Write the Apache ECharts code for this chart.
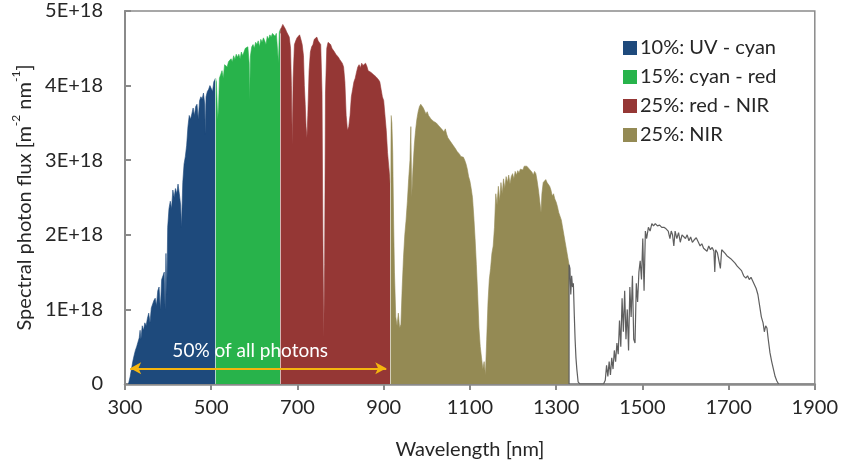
<!DOCTYPE html>
<html>
<head>
<meta charset="utf-8">
<script src="https://cdn.jsdelivr.net/npm/echarts@6/dist/echarts.min.js"></script>
<style>
  html, body { margin: 0; padding: 0; background: #fff; }
  #chart { width: 841px; height: 467px; }
</style>
</head>
<body>
<div id="chart"></div>
<script>
// Solar spectral photon flux, values in units of 1E+18 m^-2 nm^-1, keyed by wavelength (nm)
const bandNames = ['10%: UV - cyan', '15%: cyan - red', '25%: red - NIR', '25%: NIR'];
const bandColors = ['#1E4A7C', '#28B34B', '#953735', '#948A54'];

const uvCyan = [
  [308,0],[312,0.1],[315,0.2],[318,0.3],[321,0.38],[324,0.45],[327,0.5],[330,0.56],[333,0.62],[335,0.72],
  [337,0.6],[340,0.78],[343,0.72],[346,0.82],[349,0.78],[352,0.88],[355,0.95],[358,0.82],[361,1.02],[364,1.0],
  [367,1.12],[370,1.15],[373,1.05],[376,1.25],[379,1.3],[382,1.0],[385,1.4],[388,1.45],[391,1.5],[393,1.0],
  [395,1.75],[397,1.2],[399,2.1],[402,2.35],[405,2.45],[408,2.35],[411,2.6],[414,2.5],[417,2.62],[420,2.55],
  [423,2.68],[426,2.55],[429,2.4],[431,2.1],[434,2.7],[437,2.95],[440,3.05],[443,3.2],[446,3.45],[449,3.6],
  [452,3.55],[455,3.62],[458,3.7],[461,3.6],[464,3.72],[467,3.75],[470,3.55],[473,3.8],[476,3.85],[479,3.82],
  [482,3.9],[485,3.75],[486,3.35],[488,3.85],[491,3.92],[494,3.95],[497,4.0],[500,3.98],[503,3.92],[506,4.05],
  [510,4.1]
];

const cyanRed = [
  [510,4.1],[512,4.05],[515,3.55],[517,3.7],[519,4.1],[522,4.15],[525,4.2],[528,4.1],[531,4.28],[534,4.3],
  [537,4.25],[540,4.32],[543,4.3],[546,4.36],[549,4.32],[552,4.4],[555,4.35],[558,4.42],[561,4.38],[564,4.42],
  [567,4.36],[570,4.45],[573,4.4],[576,4.42],[579,4.5],[582,4.48],[585,4.52],[588,4.3],[589,3.8],[591,4.4],
  [594,4.52],[597,4.55],[600,4.5],[603,4.58],[606,4.55],[609,4.6],[612,4.52],[615,4.62],[618,4.58],[621,4.64],
  [624,4.6],[627,4.55],[630,4.66],[633,4.62],[636,4.68],[639,4.65],[642,4.7],[645,4.72],[648,4.66],[651,4.7],
  [654,4.68],[656,4.3],[658,4.72],[660,4.75]
];

const redNir = [
  [660,4.75],[663,4.78],[666,4.82],[669,4.8],[672,4.76],[675,4.72],[678,4.7],[681,4.65],[684,4.5],[686,4.0],
  [688,3.2],[690,4.1],[693,4.55],[696,4.6],[699,4.64],[702,4.66],[705,4.68],[708,4.62],[711,4.55],[714,4.4],
  [716,4.0],[718,3.75],[720,3.45],[722,3.3],[724,3.6],[727,4.2],[730,4.45],[733,4.52],[736,4.55],[739,4.62],
  [742,4.64],[745,4.65],[748,4.6],[751,4.62],[754,4.55],[757,3.9],[759,2.0],[761,0.62],[763,1.6],[765,3.9],
  [768,4.5],[771,4.58],[774,4.56],[777,4.55],[780,4.5],[783,4.48],[786,4.45],[789,4.42],[792,4.4],[795,4.38],
  [798,4.35],[801,4.34],[804,4.3],[807,4.25],[810,4.05],[813,3.6],[816,3.4],[819,3.45],[822,3.6],[825,3.85],
  [828,3.95],[831,4.05],[834,4.1],[837,4.18],[840,4.25],[843,4.28],[846,4.24],[849,4.3],[852,4.27],[855,4.25],
  [858,4.3],[861,4.26],[864,4.2],[867,4.22],[870,4.18],[873,4.2],[876,4.15],[879,4.16],[882,4.12],[885,4.1],
  [888,4.08],[891,4.05],[894,3.95],[897,3.85],[900,3.8],[903,3.8],[906,3.4],[909,3.1],[912,2.9],[915,2.7]
];

const nir = [
  [915,2.7],[917,3.6],[919,3.5],[921,3.1],[923,2.2],[925,1.5],[928,0.9],[931,0.78],[934,0.95],[937,0.75],
  [940,0.8],[943,1.3],[946,1.7],[949,2.0],[952,2.2],[955,2.45],[958,2.75],[961,3.0],[963,3.45],[965,2.5],
  [968,2.9],[971,3.2],[974,3.4],[977,3.55],[980,3.65],[983,3.72],[986,3.75],[989,3.74],[992,3.7],[995,3.68],
  [998,3.62],[1001,3.65],[1004,3.6],[1007,3.58],[1010,3.55],[1013,3.56],[1016,3.52],[1019,3.5],[1022,3.5],
  [1025,3.48],[1028,3.46],[1031,3.45],[1034,3.42],[1037,3.4],[1040,3.38],[1043,3.42],[1046,3.35],[1049,3.3],
  [1052,3.28],[1055,3.25],[1058,3.27],[1061,3.2],[1064,3.18],[1067,3.15],[1070,3.12],[1073,3.1],[1076,3.08],
  [1079,3.05],[1082,3.06],[1085,3.04],[1088,3.0],[1091,2.95],[1094,2.88],[1097,2.78],[1100,2.72],[1103,2.62],
  [1106,2.5],[1109,2.25],[1112,1.95],[1115,1.6],[1118,1.2],[1121,0.75],[1124,0.5],[1127,0.35],[1130,0.2],
  [1133,0.3],[1136,0.12],[1139,0.6],[1142,1.1],[1145,1.4],[1148,1.55],[1151,1.75],[1154,1.85],[1157,2.1],
  [1160,2.55],[1163,2.4],[1166,2.65],[1169,2.45],[1172,2.7],[1175,2.55],[1178,2.75],[1181,2.62],[1184,2.78],
  [1187,2.7],[1190,2.8],[1193,2.68],[1196,2.78],[1199,2.82],[1202,2.75],[1205,2.85],[1208,2.8],[1211,2.86],
  [1214,2.83],[1217,2.88],[1220,2.9],[1223,2.87],[1226,2.92],[1229,2.9],[1232,2.92],[1235,2.9],[1238,2.88],
  [1241,2.86],[1244,2.84],[1247,2.8],[1250,2.85],[1253,2.82],[1256,2.72],[1259,2.6],[1262,2.45],[1265,2.3],
  [1267,2.55],[1270,2.7],[1273,2.72],[1276,2.74],[1279,2.7],[1282,2.72],[1285,2.65],[1288,2.6],[1291,2.52],
  [1294,2.55],[1297,2.48],[1300,2.44],[1303,2.38],[1306,2.3],[1309,2.25],[1312,2.2],[1315,2.1],[1318,2.0],
  [1321,1.9],[1324,1.8],[1327,1.7],[1330,1.6]
];

const infrared = [
  [1330,0],[1330,1.6],[1332,1.55],[1334,1.2],[1336,1.45],[1338,1.3],[1340,1.35],[1342,0.95],[1344,0.6],[1346,0.35],
  [1348,0.2],[1351,0.03],[1355,0],[1410,0],[1414,0.05],[1417,0.25],[1420,0.1],[1423,0.3],[1426,0.12],
  [1429,0.35],[1432,0.2],[1435,0.45],[1438,0.3],[1441,0.55],[1444,0.4],[1447,0.85],[1450,0.5],[1453,1.15],
  [1456,0.7],[1459,1.25],[1462,0.6],[1465,1.0],[1468,0.45],[1471,1.3],[1474,0.9],[1477,1.45],[1480,0.6],
  [1483,0.55],[1486,1.35],[1489,1.1],[1492,1.5],[1495,1.65],[1498,1.4],[1501,1.95],[1504,1.25],[1507,2.05],
  [1510,1.95],[1514,2.1],[1518,2.05],[1522,2.15],[1526,2.12],[1530,2.15],[1535,2.12],[1540,2.13],[1545,2.1],
  [1550,2.1],[1555,2.08],[1560,2.05],[1564,1.95],[1567,2.05],[1570,2.0],[1573,1.85],[1576,2.05],[1580,1.95],
  [1584,2.03],[1588,1.9],[1592,2.0],[1596,1.98],[1600,1.95],[1604,2.0],[1608,1.92],[1612,1.97],[1616,1.9],
  [1620,1.93],[1625,1.96],[1630,1.9],[1634,1.85],[1638,1.88],[1642,1.82],[1646,1.84],[1650,1.78],[1654,1.85],
  [1658,1.8],[1662,1.83],[1666,1.78],[1668,1.5],[1670,1.8],[1674,1.76],[1678,1.78],[1681,1.55],[1684,1.8],
  [1688,1.78],[1692,1.75],[1696,1.72],[1700,1.7],[1705,1.68],[1710,1.65],[1715,1.62],[1720,1.58],[1725,1.55],
  [1730,1.52],[1735,1.45],[1740,1.42],[1744,1.45],[1748,1.4],[1752,1.43],[1756,1.38],[1760,1.4],[1764,1.28],
  [1768,1.2],[1772,1.05],[1776,0.9],[1780,0.82],[1783,0.7],[1786,0.78],[1789,0.75],[1792,0.6],[1796,0.42],
  [1800,0.3],[1804,0.2],[1808,0.1],[1812,0.04],[1816,0]
];

// Band boundaries (nm) and the "half of all photons" span
const bandEdges = [510, 660, 915];
const halfPhotonSpan = [312, 906];
const halfPhotonLevel = 0.21;

const bands = [uvCyan, cyanRed, redNir, nir];
const FONT = 'Lato, "Open Sans", sans-serif';
const TEXT = '#262626';
const AXIS = '#8a8a8a';

const chart = echarts.init(document.getElementById('chart'), null, { renderer: 'canvas' });

const bandSeries = bands.map((pts, i) => ({
  name: bandNames[i],
  type: 'line',
  data: pts,
  showSymbol: false,
  silent: true,
  lineStyle: { width: 0.6, color: bandColors[i] },
  itemStyle: { color: bandColors[i] },
  areaStyle: { color: bandColors[i], opacity: 1 },
  z: 2
}));

chart.setOption({
  animation: false,
  backgroundColor: '#fff',
  textStyle: { fontFamily: FONT },
  grid: {
    left: 125, right: 24, top: 11, bottom: 83,
    show: true, borderColor: AXIS, borderWidth: 1.5, backgroundColor: 'transparent'
  },
  legend: {
    orient: 'vertical',
    left: 618, top: 33,
    itemWidth: 14, itemHeight: 14, itemGap: 9,
    icon: 'rect',
    data: bandNames,
    textStyle: { fontFamily: FONT, fontSize: 20, color: TEXT, padding: [0, 0, 0, -2] }
  },
  xAxis: {
    type: 'value',
    min: 300, max: 1900, interval: 200,
    name: 'Wavelength [nm]',
    nameLocation: 'middle', nameGap: 56,
    nameTextStyle: { fontFamily: FONT, fontSize: 20, color: TEXT },
    axisLine: { show: true, lineStyle: { color: AXIS, width: 2.5 } },
    axisTick: { show: true, length: 6, lineStyle: { color: AXIS, width: 2 } },
    axisLabel: { fontFamily: FONT, fontSize: 20, color: TEXT, margin: 14, formatter: v => String(v) },
    splitLine: { show: false }
  },
  yAxis: {
    type: 'value',
    min: 0, max: 5, interval: 1,
    name: '{b|Spectral photon flux [m}{s|-2}{b| nm}{s|-1}{b|]}',
    nameLocation: 'middle', nameGap: 88,
    nameTextStyle: {
      rich: {
        b: { fontFamily: FONT, fontSize: 20, color: TEXT, lineHeight: 24, verticalAlign: 'bottom' },
        s: { fontFamily: FONT, fontSize: 12, color: TEXT, lineHeight: 24, verticalAlign: 'top' }
      }
    },
    axisLine: { show: true, lineStyle: { color: AXIS, width: 2 } },
    axisTick: { show: true, inside: true, length: 6, lineStyle: { color: AXIS, width: 2 } },
    axisLabel: {
      fontFamily: FONT, fontSize: 20, color: TEXT, margin: 22,
      formatter: v => (v === 0 ? '0' : v + 'E+18')
    },
    splitLine: { show: false }
  },
  series: [
    ...bandSeries,
    {
      name: 'spectrum beyond 1330 nm',
      type: 'line',
      data: infrared,
      showSymbol: false,
      silent: true,
      lineStyle: { width: 1.2, color: '#5f5f5f' },
      z: 3,
      markLine: {
        silent: true,
        symbol: 'none',
        label: { show: false },
        lineStyle: { color: 'rgba(255,255,255,0.55)', width: 1, type: 'solid' },
        data: bandEdges.map(e => [{ coord: [e, 0] }, { coord: [e, 4.7] }])
      }
    },
    {
      name: 'half of photons',
      type: 'line',
      data: [],
      silent: true,
      z: 5,
      markLine: {
        silent: true,
        symbol: ['arrow', 'arrow'],
        symbolSize: [9, 11],
        lineStyle: { color: '#F5B50E', width: 2, type: 'solid' },
        label: {
          show: true, position: 'middle', distance: 8,
          formatter: '50% of all photons',
          color: '#ffffff', fontFamily: FONT, fontSize: 19, offset: [-8, 0]
        },
        data: [[
          { coord: [halfPhotonSpan[0], halfPhotonLevel] },
          { coord: [halfPhotonSpan[1], halfPhotonLevel] }
        ]]
      }
    }
  ]
});
</script>
</body>
</html>
